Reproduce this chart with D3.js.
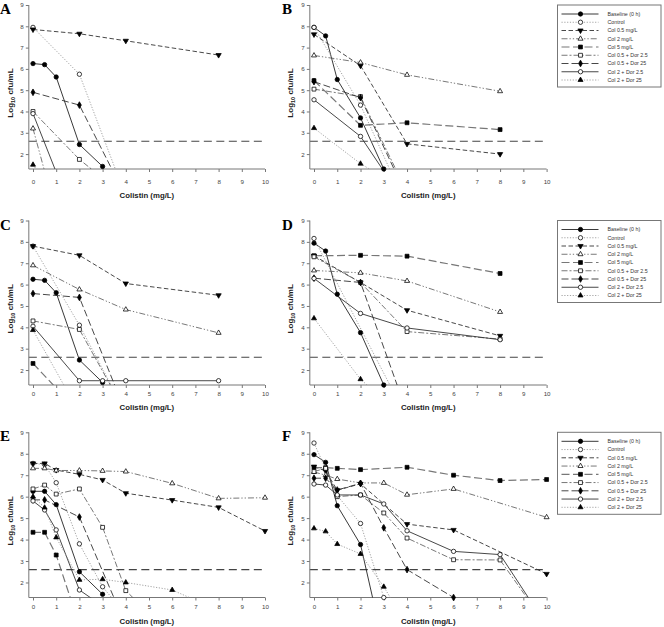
<!DOCTYPE html>
<html><head><meta charset="utf-8">
<script src="https://cdn.jsdelivr.net/npm/d3@7"></script>
<style>body{margin:0;background:#fff}</style>
</head><body><svg id="c" width="664" height="627"></svg>
<script>
// ---------- data ----------
const seriesNames = ["Baseline (0 h)","Control","Col 0.5 mg/L","Col 2 mg/L","Col 5 mg/L","Col 0.5 + Dor 2.5","Col 0.5 + Dor 25","Col 2 + Dor 2.5","Col 2 + Dor 25"];
const xTicks = [0,1,2,3,4,5,6,7,8,9,10];
const yTicks = [2,3,4,5,6,7,8,9];
const threshold = 2.6;
const panelLetters = ["A","B","C","D","E","F"];
const xTitle = "Colistin (mg/L)";

// each panel: one [x, log10 cfu] list per series, in seriesNames order
const panelA = [
  [[0,6.25],[0.5,6.2],[1,5.62],[2,2.45],[3,1.42]],
  [[0,7.95],[2,5.75],[4,0]],
  [[0,7.85],[2,7.65],[4,7.32],[8,6.65]],
  [[0,3.2],[1,-0.8]],
  [],
  [[0,4.0],[2,1.75],[4,0]],
  [[0,4.9],[2,4.3],[4,0]],
  [[0,3.9],[1,1.15]],
  [[0,1.5],[1,0]]
];
const panelB = [
  [[0,7.95],[0.5,7.55],[1,5.5],[2,3.7],[3,1.3]],
  [[0,7.95],[2,4.3],[4,-0.5]],
  [[0,7.62],[2,6.15],[4,2.48],[8,2.0]],
  [[0,6.63],[2,6.3],[4,5.72],[8,4.95]],
  [[0,5.45],[2,3.35],[4,3.47],[8,3.15]],
  [[0,5.05],[2,4.7],[4,0.2]],
  [[0,5.4],[2,4.65],[4,0]],
  [[0,4.55],[2,2.83],[3,1.2]],
  [[0,3.22],[2,1.55],[3,0.9]]
];
const panelC = [
  [[0,6.25],[0.5,6.2],[1,5.62],[2,2.47],[3,1.42]],
  [[0,7.8],[2,4.1],[4,0]],
  [[0,7.8],[2,7.37],[4,6.05],[8,5.5]],
  [[0,6.9],[2,5.77],[4,4.83],[8,3.74]],
  [[0,2.31],[2,0]],
  [[0,4.3],[2,3.9],[4,0]],
  [[0,5.58],[2,5.4],[4,0]],
  [[0,4.05],[2,1.5],[3,1.5],[4,1.5],[8,1.5]],
  [[0,3.87],[2,0]]
];
const panelD = [
  [[0,7.94],[0.5,7.57],[1,5.55],[2,3.75],[3,1.3]],
  [[0,8.16],[4,-0.25]],
  [[0,7.35],[2,6.1],[4,4.8],[8,3.6]],
  [[0,6.66],[2,6.55],[4,6.17],[8,4.72]],
  [[0,7.35],[2,7.37],[4,7.33],[8,6.52]],
  [[0,7.3],[2,6.1],[4,3.8],[8,3.45]],
  [[0,6.3],[2,6.1],[4,0]],
  [[0,6.29],[2,4.65],[4,3.97],[8,3.42]],
  [[0,4.42],[2,1.57],[3,0.6]]
];
const panelE = [
  [[0,6.25],[0.5,6.25],[1,5.63],[2,2.5],[3,1.45]],
  [[0,7.55],[0.5,7.5],[1,6.65],[2,3.8],[3,1.8],[4,0.5]],
  [[0,7.55],[0.5,7.55],[1,7.24],[2,7.04],[3,6.78],[4,6.16],[6,5.84],[8,5.5],[10,4.4]],
  [[0,7.32],[0.5,7.32],[1,7.22],[2,7.22],[3,7.2],[4,7.17],[6,6.62],[8,5.92],[10,5.95]],
  [[0,4.34],[0.5,4.34],[1,3.28],[2,0]],
  [[0,6.36],[0.5,6.54],[1,6.12],[2,6.36],[3,4.57],[4,1.62],[6,-0.5]],
  [[0,5.85],[0.5,5.85],[2,5.05],[4,0]],
  [[0,5.8],[0.5,5.38],[1,4.45],[2,1.65],[3,0.9]],
  [[0,6.0],[0.5,5.49],[1,4.1],[2,2.12],[3,2.15],[4,2.0],[6,1.65],[8,0.7]]
];
const panelF = [
  [[0,7.96],[0.5,7.6],[1,5.58],[2,3.77],[3,-1]],
  [[0,8.5],[0.5,7.3],[1,6.05],[2,4.75],[3,1.3]],
  [[0,7.4],[0.5,7.2],[1,6.3],[2,6.6],[4,4.72],[6,4.45],[10,2.4]],
  [[0,7.15],[0.5,7.0],[1,6.82],[2,6.64],[3,6.64],[4,6.09],[6,6.36],[10,5.04]],
  [[0,7.35],[0.5,7.35],[1,7.32],[2,7.26],[4,7.37],[6,7.0],[8,6.75],[10,6.8]],
  [[0,7.17],[0.5,7.32],[1,6.0],[2,6.08],[3,5.24],[4,4.07],[6,3.06],[8,3.05],[10,0]],
  [[0,6.86],[0.5,6.86],[1,6.31],[2,6.62],[3,4.55],[4,2.6],[6,1.3]],
  [[0,6.59],[0.5,6.54],[1,6.08],[2,6.08],[3,5.66],[4,4.41],[6,3.45],[8,3.3],[10,0]],
  [[0,4.52],[0.5,4.38],[1,3.79],[2,3.33],[3,1.8],[4,0]]
];
const panels = [panelA, panelB, panelC, panelD, panelE, panelF];

// ---------- styles ----------
const styles = [
  {dash:null, color:"#222", w:0.9, sym:d3.symbolCircle, size:15, fill:"#000"},
  {dash:"1.2,1.6", color:"#999", w:0.9, sym:d3.symbolCircle, size:15, fill:"#fff"},
  {dash:"4.5,2.5", color:"#333", w:0.9, sym:"tdown", size:12, fill:"#000"},
  {dash:"6,2,1.3,2,1.3,2", color:"#555", w:0.8, sym:d3.symbolTriangle, size:11, fill:"#fff"},
  {dash:"8,3.5", color:"#777", w:1.2, sym:d3.symbolSquare, size:15, fill:"#000"},
  {dash:"6,2,2,2", color:"#555", w:0.8, sym:d3.symbolSquare, size:15, fill:"#fff"},
  {dash:"7,3", color:"#333", w:0.9, sym:d3.symbolDiamond, size:13, fill:"#000"},
  {dash:null, color:"#333", w:0.9, sym:d3.symbolCircle, size:15, fill:"#fff"},
  {dash:"1.2,1.6", color:"#999", w:0.9, sym:d3.symbolTriangle, size:11, fill:"#000"}
];

const rows = [
  {top:5, bottom:169, tickY:184, titleY:197.5, letterY:14},
  {top:220.5, bottom:385, tickY:396, titleY:410, letterY:229.5},
  {top:432.3, bottom:597.5, tickY:609, titleY:623.5, letterY:441}
];
const cols = [
  {x0:33, x10:265, letterX:0, ytX:13},
  {x0:314, x10:546.6, letterX:282, ytX:293}
];

const svg = d3.select("#c");
svg.append("rect").attr("width",664).attr("height",627).attr("fill","#fff");

function marker(g, st, x, y){
  const path = d3.symbol(st.sym === "tdown" ? d3.symbolTriangle : st.sym, st.size)();
  g.append("path").attr("d", path)
    .attr("transform", `translate(${x},${y})` + (st.sym === "tdown" ? " rotate(180)" : ""))
    .attr("fill", st.fill).attr("stroke","#000").attr("stroke-width",0.75);
}

panels.forEach((data, pi) => {
  const row = rows[Math.floor(pi/2)], col = cols[pi%2];
  const xs = d3.scaleLinear().domain([0,10]).range([col.x0, col.x10]);
  const ys = d3.scaleLinear().domain([1.3,9]).range([row.bottom, row.top]);
  const xl = xs(-0.18), xr = xs(10);
  const g = svg.append("g");

  const cid = "clip"+pi;
  g.append("clipPath").attr("id",cid).append("rect")
    .attr("x", xl).attr("y", row.top-4).attr("width", xr-xl+1).attr("height", row.bottom-row.top+4);

  g.append("line").attr("x1", xl).attr("x2", xr).attr("y1", ys(threshold)).attr("y2", ys(threshold))
    .attr("stroke","#444").attr("stroke-width",1.1).attr("stroke-dasharray","8,4.5");

  const ax = g.append("g").attr("transform",`translate(0,${row.bottom})`)
    .call(d3.axisBottom(xs).tickValues(xTicks).tickSize(3).tickSizeOuter(0));
  ax.select(".domain").remove();
  ax.selectAll("line").attr("stroke","#777");
  ax.selectAll("text").attr("font-family","Liberation Sans, Arial, sans-serif").attr("font-size",6.2)
    .attr("fill","#444").attr("y", row.tickY-row.bottom).attr("dy",0);
  const ay = g.append("g").attr("transform",`translate(${xl},0)`)
    .call(d3.axisLeft(ys).tickValues(yTicks).tickSize(3).tickSizeOuter(0));
  ay.select(".domain").remove();
  ay.selectAll("line").attr("stroke","#777");
  ay.selectAll("text").attr("font-family","Liberation Sans, Arial, sans-serif").attr("font-size",6.2)
    .attr("fill","#444").attr("x",-5);
  g.append("line").attr("x1",xl).attr("x2",xl).attr("y1",ys(9)).attr("y2",row.bottom).attr("stroke","#777").attr("stroke-width",1);
  g.append("line").attr("x1",xl).attr("x2",xr).attr("y1",row.bottom).attr("y2",row.bottom).attr("stroke","#777").attr("stroke-width",1);

  const lineGen = d3.line().x(d=>xs(d[0])).y(d=>ys(d[1]));
  const lg = g.append("g").attr("clip-path",`url(#${cid})`);
  data.forEach((s, si) => {
    if (!s.length) return;
    const st = styles[si];
    lg.append("path").attr("d", lineGen(s)).attr("fill","none")
      .attr("stroke", st.color).attr("stroke-width", st.w)
      .attr("stroke-dasharray", st.dash);
  });
  const mg = g.append("g");
  data.forEach((s, si) => {
    s.forEach(d => { if (d[1] >= 1.28) marker(mg, styles[si], xs(d[0]), ys(d[1])); });
  });

  g.append("text").attr("x",(xl+xr)/2).attr("y",row.titleY).attr("text-anchor","middle")
    .attr("font-family","Liberation Sans, Arial, sans-serif").attr("font-weight","bold").attr("font-size",7.8)
    .attr("fill","#222").text(xTitle);
  const yt = g.append("text").attr("transform",`translate(${col.ytX},${(row.top+row.bottom)/2+6}) rotate(-90)`)
    .attr("text-anchor","middle").attr("font-family","Liberation Sans, Arial, sans-serif")
    .attr("font-weight","bold").attr("font-size",8).attr("fill","#222");
  yt.append("tspan").text("Log");
  yt.append("tspan").attr("font-size",5.5).attr("dy",2).text("10");
  yt.append("tspan").attr("dy",-2).text(" cfu/mL");

  g.append("text").attr("x",col.letterX).attr("y",row.letterY)
    .attr("font-family","Liberation Serif, Times New Roman, serif").attr("font-weight","bold")
    .attr("font-size",15).attr("fill","#000").text(panelLetters[pi]);
});

rows.forEach(row => {
  const lx = 557.5, lw = 103.5, lt = row.top, lh = 82;
  const g = svg.append("g");
  g.append("rect").attr("x",lx).attr("y",lt).attr("width",lw).attr("height",lh)
    .attr("fill","#fff").attr("stroke","#777").attr("stroke-width",1);
  seriesNames.forEach((name, i) => {
    const y = lt + 9 + i*8.25, st = styles[i];
    g.append("line").attr("x1",561.5).attr("x2",598.5).attr("y1",y).attr("y2",y)
      .attr("stroke",st.color).attr("stroke-width",st.w).attr("stroke-dasharray",st.dash);
    marker(g, st, 580.5, y);
    g.append("text").attr("x",607.5).attr("y",y).attr("dy","0.35em")
      .attr("font-family","Liberation Sans, Arial, sans-serif").attr("font-size",5.3)
      .attr("fill","#333").text(name);
  });
});
</script></body></html>
